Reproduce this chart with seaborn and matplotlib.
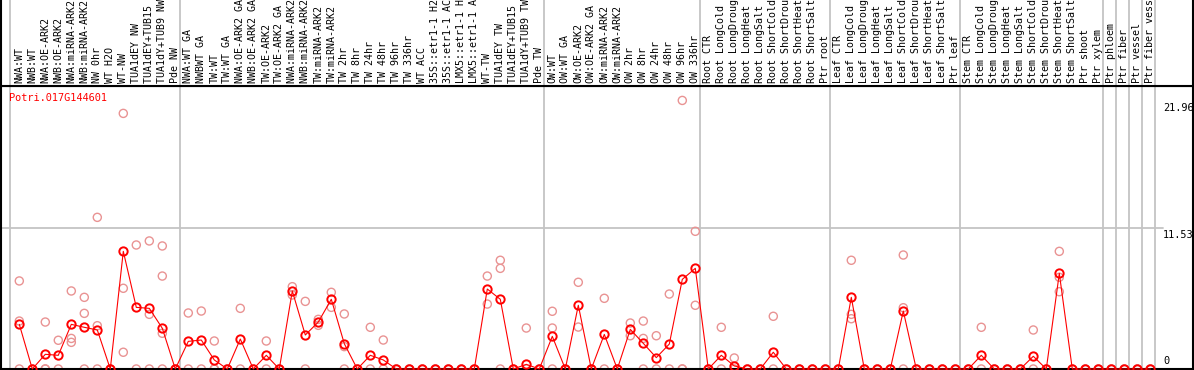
import numpy as np
import pandas as pd
import matplotlib
matplotlib.use("Agg")
import matplotlib.pyplot as plt
import matplotlib.transforms as mtransforms
import seaborn as sns

# ---------------- data ----------------
title = "Potri.017G144601"

labels = [
    "NWA:WT", "NWB:WT", "NWA:OE-ARK2", "NWB:OE-ARK2", "NWA:miRNA-ARK2", "NWB:miRNA-ARK2",
    "NW 0hr", "WT H2O", "WT-NW", "TUA1dEY NW", "TUA1dEY+TUB15 NW", "TUA1dY+TUB9 NW", "Pde NW",
    "NWA:WT GA", "NWBWT GA", "TW:WT", "TW:WT GA", "NWA:OE-ARK2 GA", "NWB:OE-ARK2 GA",
    "TW:OE-ARK2", "TW:OE-ARK2 GA", "NWA:miRNA-ARK2 GA", "NWB:miRNA-ARK2 GA", "TW:miRNA-ARK2",
    "TW:miRNA-ARK2", "TW 2hr", "TW 8hr", "TW 24hr", "TW 48hr", "TW 96hr", "TW 336hr", "WT ACC",
    "35S::etr1-1 H2O", "35S::etr1-1 ACC", "LMX5::etr1-1 H2O", "LMX5::etr1-1 ACC", "WT-TW",
    "TUA1dEY TW", "TUA1dEY+TUB15 TW", "TUA1dY+TUB9 TW", "Pde TW",
    "OW:WT", "OW:WT GA", "OW:OE-ARK2", "OW:OE-ARK2 GA", "OW:miRNA-ARK2", "OW:miRNA-ARK2",
    "OW 2hr", "OW 8hr", "OW 24hr", "OW 48hr", "OW 96hr", "OW 336hr",
    "Root CTR", "Root LongCold", "Root LongDrought", "Root LongHeat", "Root LongSalt",
    "Root ShortCold", "Root ShortDrought", "Root ShortHeat", "Root ShortSalt", "Ptr root",
    "Leaf CTR", "Leaf LongCold", "Leaf LongDrought", "Leaf LongHeat", "Leaf LongSalt",
    "Leaf ShortCold", "Leaf ShortDrought", "Leaf ShortHeat", "Leaf ShortSalt", "Ptr leaf",
    "Stem CTR", "Stem LongCold", "Stem LongDrought", "Stem LongHeat", "Stem LongSalt",
    "Stem ShortCold", "Stem ShortDrought", "Stem ShortHeat", "Stem ShortSalt", "Ptr shoot",
    "Ptr xylem", "Ptr phloem", "Ptr fiber", "Ptr vessel", "Ptr fiber vessel",
]

mean_values = [
    3.65, 0, 1.2, 1.12, 3.65, 3.41, 3.19, 0, 9.62, 5.04, 4.96, 3.33, 0,
    2.26, 2.37, 0.74, 0, 2.45, 0, 1.12, 0, 6.38, 2.78, 3.84, 5.7, 2.07, 0, 1.12, 0.74,
    0, 0, 0, 0, 0, 0, 0, 6.54, 5.7, 0, 0.38, 0,
    2.67, 0, 5.21, 0, 2.83, 0, 3.24, 2.1, 0.93, 2.04, 7.33, 8.23,
    0, 1.12, 0.25, 0, 0, 1.37, 0, 0, 0, 0,
    0, 5.86, 0, 0, 0, 4.74, 0, 0, 0, 0,
    0, 1.12, 0, 0, 0, 1.04, 0, 7.82, 0, 0,
    0, 0, 0, 0, 0,
]

replicates = [
    [7.2, 3.92, 0], [0, 0], [3.84, 0, 0], [2.35, 0], [6.38, 2.5, 2.18], [5.86, 4.55, 0],
    [12.4, 3.54, 0], [0, 0], [20.9, 6.6, 1.37], [10.14, 0], [10.47, 4.47, 0],
    [10.06, 7.6, 2.92, 0], [0, 0],
    [4.58, 0], [4.74, 0], [2.29, 0, 0], [0, 0], [4.96, 0], [0, 0], [2.29, 0], [0, 0],
    [6.73, 6.05], [5.53, 0], [4.06, 3.57], [6.27, 5.04], [4.5, 1.83, 0], [0, 0], [3.41, 0],
    [2.37, 0], [0, 0], [0, 0], [0, 0], [0, 0], [0, 0], [0, 0], [0, 0], [7.6, 5.31],
    [8.89, 8.23, 0], [0, 0], [3.35, 0], [0, 0],
    [4.72, 3.35, 0], [0, 0], [7.09, 3.43], [0, 0], [5.78, 0], [0, 0], [3.76, 2.72],
    [3.92, 2.5, 0], [2.72, 0], [6.13, 0], [21.96, 0, 0], [11.26, 5.21],
    [0, 0], [3.41, 0], [0.9, 0], [0, 0], [0, 0], [4.31, 0], [0, 0], [0, 0], [0, 0], [0, 0],
    [0, 0], [8.89, 4.47, 4.11], [0, 0], [0, 0], [0, 0], [9.32, 5.01, 0], [0, 0], [0, 0],
    [0, 0], [0, 0],
    [0, 0], [3.41, 0], [0, 0], [0, 0], [0, 0], [3.19, 0], [0, 0], [9.62, 7.5, 6.32], [0, 0],
    [0, 0],
    [0, 0], [0, 0], [0, 0], [0, 0], [0, 0],
]

# index of the last sample in each group (separators drawn after them)
group_last = [12, 40, 52, 62, 72, 83, 84, 85, 86, 87]
y_ticks = [0, 11.53, 21.96]

# ---------------- frames ----------------
n = len(labels)
pos = np.arange(n)
df_mean = pd.DataFrame({"x": pos, "value": mean_values})
df_rep = pd.DataFrame(
    [(i, v) for i, vals in enumerate(replicates) for v in vals], columns=["x", "value"]
)

sns.set_style("white")
mono = ["DejaVu Sans Mono"]
plt.rcParams["font.family"] = mono

W, H = 1194, 370
fig = plt.figure(figsize=(W / 100, H / 100), dpi=100)

# main plot area: px x 1..1193, y 86..369 (from top)
ax = fig.add_axes([1 / W, 1 / H, 1192 / W, 283 / H])
ax_lab = fig.add_axes([1 / W, 284 / H, 1192 / W, 86 / H], sharex=ax)

px_per_unit = 13.0
x0 = 19.3
ax.set_xlim((1 - x0) / px_per_unit, (1193 - x0) / px_per_unit)
ax.set_ylim(0, 23.14)

grid_c = "#c4c4c4"
seps = [-0.715] + [g + 0.36 for g in group_last]
for s in seps:
    ax.axvline(s, color=grid_c, lw=1.3, zorder=0)
    ax_lab.axvline(s, color=grid_c, lw=1.3, zorder=0)

ax.axhline(y_ticks[1], xmin=0, xmax=0.9748, color=grid_c, lw=1.3, zorder=0)

sns.scatterplot(
    data=df_rep, x="x", y="value", ax=ax, marker="o", s=34,
    facecolors="none", edgecolor="#e99393", linewidth=1.0, zorder=2, clip_on=False,
    legend=False,
)
sns.lineplot(
    data=df_mean, x="x", y="value", ax=ax, color="#ff0000", lw=0.8,
    marker="o", markersize=6.0, markerfacecolor="none", markeredgecolor="#ff0000",
    markeredgewidth=1.4, zorder=3, clip_on=False, legend=False,
)

for a in (ax, ax_lab):
    a.set_xticks([])
    a.set_yticks([])
    a.set_xlabel("")
    a.set_ylabel("")
    for sp in a.spines.values():
        sp.set_color("black")
        sp.set_linewidth(1.5)
ax_lab.spines["top"].set_visible(False)
ax_lab.set_ylim(0, 1)

for i, lab in enumerate(labels):
    ax_lab.text(i, 0.035, lab, rotation=90, ha="center", va="bottom",
                fontsize=7.2, family=mono, color="black", clip_on=False)

ax.text(0.0067, 0.975, title, transform=ax.transAxes, ha="left", va="top",
        fontsize=7.4, family=mono, color="#ff0000")

trans = mtransforms.blended_transform_factory(ax.transAxes, ax.transData)
for t in y_ticks:
    txt = ("%g" % t)
    ax.text(0.9748, t + (0.25 if t == 0 else -0.2), txt, transform=trans, ha="left",
            va="bottom" if t == 0 else "top", fontsize=7.4, family=mono, color="black")

fig.savefig("out.png", dpi=100)
